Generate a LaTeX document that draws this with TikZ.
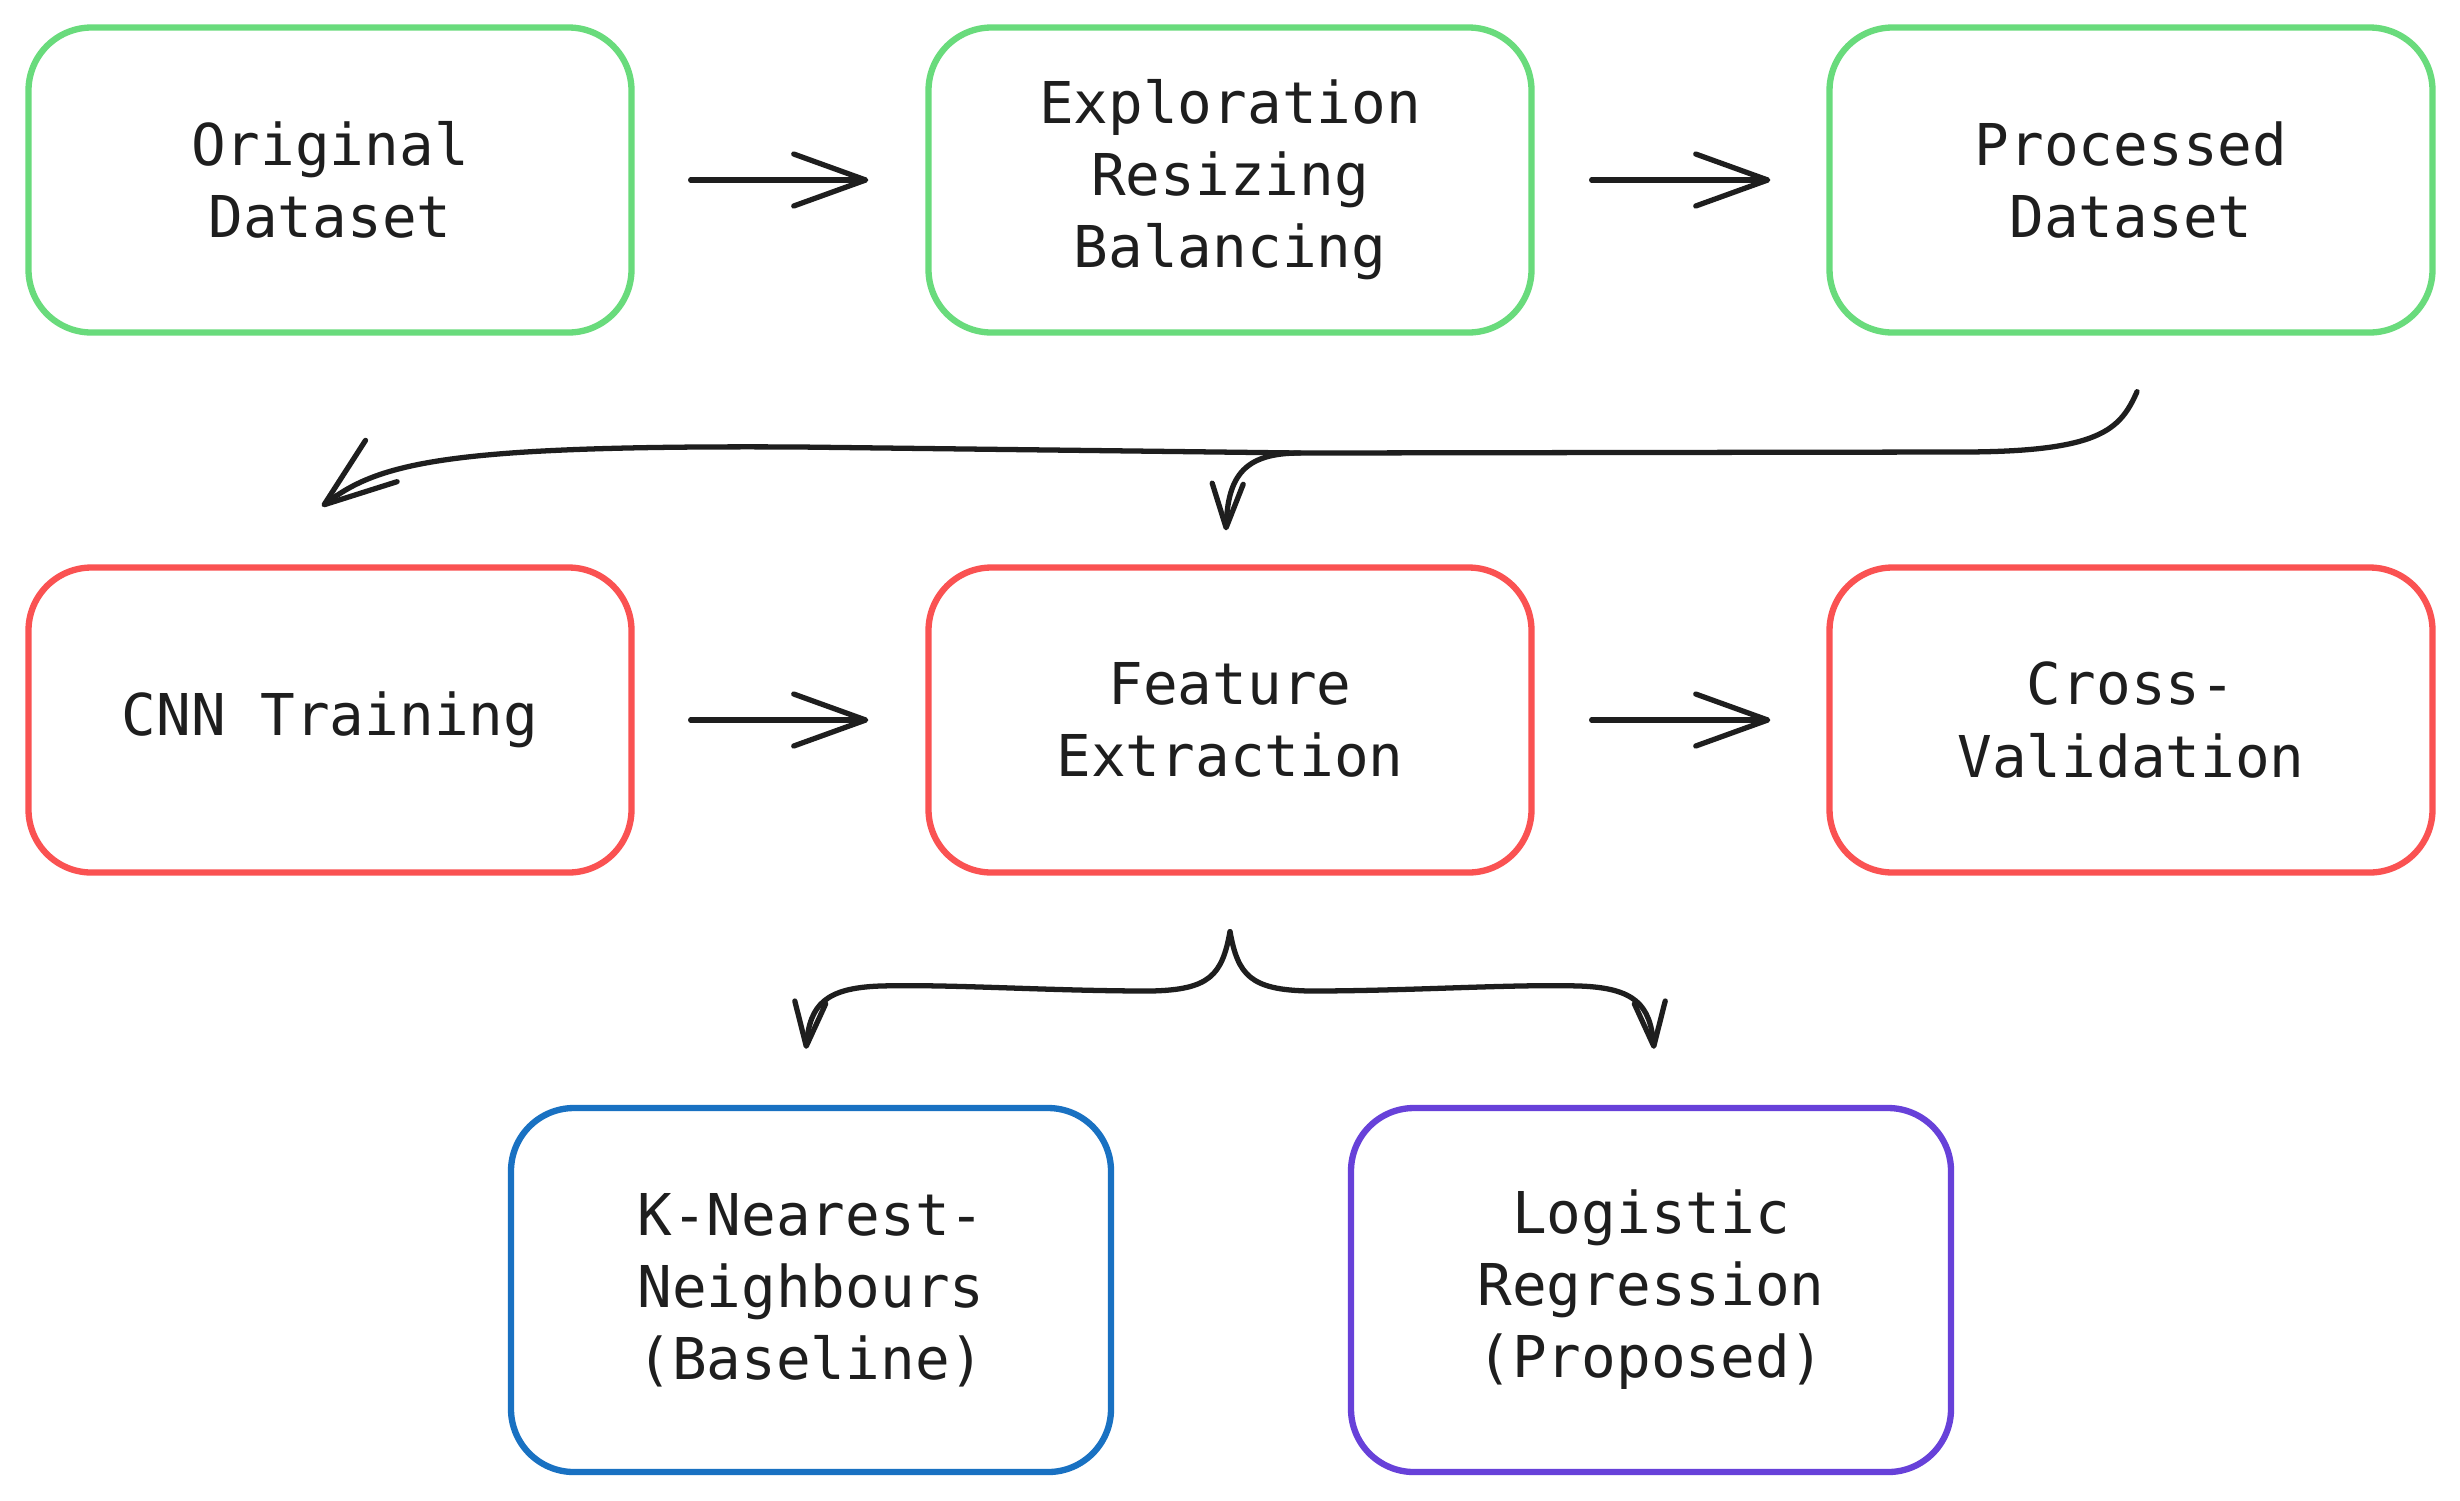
\documentclass[tikz,border=0pt]{standalone}
\usepackage{fontspec}
\usepackage{xcolor}
\usepackage{tikz}
\usetikzlibrary{arrows.meta,calc}
\newfontfamily\boxfont{DejaVu Sans Mono}
\definecolor{ink}{HTML}{1E1E1E}
\definecolor{prepgreen}{HTML}{69DB7C}
\definecolor{trainred}{HTML}{FA5252}
\definecolor{knnblue}{HTML}{1971C2}
\definecolor{lrviolet}{HTML}{6741D9}
\tikzset{
  bigbarb/.tip={Straight Barb[length=7.2mm,width=5.2mm,round]},
  smallbarb/.tip={Straight Barb[length=4.4mm,width=3.1mm,round]},
  stage/.style={draw,rounded corners=6.3mm,fill=white,line width=1.8pt,
    minimum width=6.03cm,minimum height=3.05cm,align=center,text=ink,
    font=\boxfont\fontsize{16.4}{20.5}\selectfont},
  model/.style={stage,minimum width=6.0cm,minimum height=3.64cm},
  flow/.style={-bigbarb,line width=1.5pt,color=ink,line cap=round},
  branch/.style={-smallbarb,line width=1.5pt,color=ink,line cap=round},
}

\begin{document}
\begin{tikzpicture}[x=1cm,y=1cm]
  \useasboundingbox[fill=white] (0,0) rectangle (24.6,-15);

  \node[stage,draw=prepgreen] (orig) at (3.30,-1.80) {Original\\Dataset};
  \node[stage,draw=prepgreen] (expl) at (12.30,-1.80) {Exploration\\Resizing\\Balancing};
  \node[stage,draw=prepgreen] (proc) at (21.31,-1.80) {Processed\\Dataset};

  \node[stage,draw=trainred] (cnn) at (3.30,-7.20) {CNN Training};
  \node[stage,draw=trainred] (feat) at (12.30,-7.20) {Feature\\Extraction};
  \node[stage,draw=trainred] (cross) at (21.31,-7.20) {Cross-\\Validation};

  \node[model,draw=knnblue] (knn) at (8.11,-12.90) {K-Nearest-\\Neighbours\\(Baseline)};
  \node[model,draw=lrviolet] (logreg) at (16.51,-12.90) {Logistic\\Regression\\(Proposed)};

  \draw[flow,shorten <=5.6mm,shorten >=5.7mm] (orig) -- (expl);
  \draw[flow,shorten <=5.7mm,shorten >=5.6mm] (expl) -- (proc);
  \draw[flow,shorten <=5.6mm,shorten >=5.7mm] (cnn) -- (feat);
  \draw[flow,shorten <=5.7mm,shorten >=5.6mm] (feat) -- (cross);

  \coordinate (split) at (13.00,-4.53);
  \draw[flow] ($(proc.south)+(0.06,-0.56)$)
    .. controls (21.20,-4.30) and (21.00,-4.52) .. (19.60,-4.52)
    -- (split) -- (8.00,-4.47)
    .. controls (4.50,-4.45) and (3.80,-4.62) .. ($(cnn.north)+(-0.08,0.58)$);
  \draw[branch] (split) .. controls (12.45,-4.53) and (12.28,-4.75) .. ($(feat.north)+(-0.04,0.34)$);

  \coordinate (fork) at ($(feat.south)+(0,-0.56)$);
  \draw[branch] (fork) .. controls (12.22,-9.75) and (12.10,-9.90) .. (11.50,-9.91)
    .. controls (10.50,-9.91) and (9.50,-9.84) .. (8.80,-9.86)
    .. controls (8.25,-9.88) and (8.10,-10.05) .. ($(knn.north)+(-0.05,0.56)$);
  \draw[branch] (fork) .. controls (12.38,-9.75) and (12.50,-9.90) .. (13.10,-9.91)
    .. controls (14.10,-9.91) and (15.10,-9.84) .. (15.80,-9.86)
    .. controls (16.35,-9.88) and (16.50,-10.05) .. ($(logreg.north)+(0.03,0.56)$);
\end{tikzpicture}
\end{document}
